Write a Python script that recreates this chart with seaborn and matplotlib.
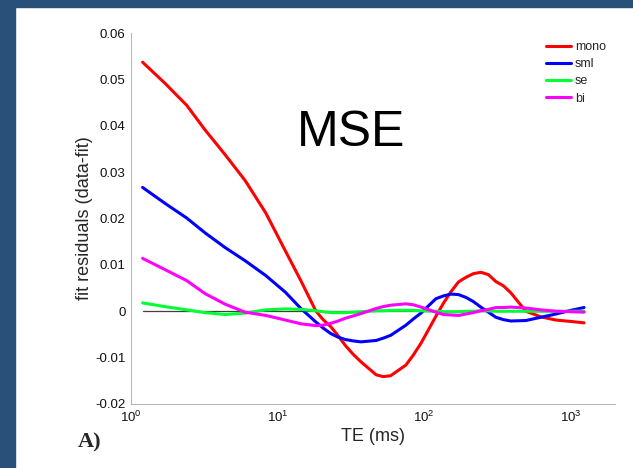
import numpy as np
import pandas as pd
import matplotlib
matplotlib.use("Agg")
import matplotlib.pyplot as plt
import seaborn as sns
from matplotlib.patches import Rectangle
from matplotlib.ticker import LogLocator, NullFormatter

# ---- data ----
te_ms = [1.2, 1.7, 2.4, 3.2, 4.4, 6.0, 8.3, 11.3, 14.4, 18.2,
         20.4, 23, 25.9, 29, 32.8, 37, 47, 52.5, 59, 75,
         84, 95, 120, 135, 152, 171, 192, 216, 243, 274,
         308, 346, 389, 493, 624, 790, 1000, 1230]
mono = [0.0537, 0.0492, 0.0444, 0.0391, 0.0337, 0.0282, 0.0212, 0.0130, 0.0066, 0.0001,
        -0.0018, -0.0033, -0.0053, -0.0074, -0.0093, -0.0109, -0.0137, -0.0141, -0.0139, -0.0116,
        -0.0095, -0.0069, -0.0011, 0.0017, 0.0042, 0.0063, 0.0073, 0.0081, 0.0084, 0.0079,
        0.0064, 0.0055, 0.0040, 0.0000, -0.0012, -0.0019, -0.0022, -0.0025]
sml = [0.0267, 0.0233, 0.0201, 0.0169, 0.0137, 0.0109, 0.0077, 0.0041, 0.0006, -0.0023,
       -0.0036, -0.0048, -0.0056, -0.0061, -0.0064, -0.0066, -0.0063, -0.0058, -0.0052, -0.0030,
       -0.0017, -0.0004, 0.0027, 0.0033, 0.0037, 0.0036, 0.0030, 0.0021, 0.0009, -0.0002,
       -0.0013, -0.0018, -0.0021, -0.0020, -0.0013, -0.0006, 0.0002, 0.0008]
se = [0.0018, 0.0010, 0.0003, -0.0003, -0.0007, -0.0004, 0.0003, 0.0005, 0.0004, 0.0001,
      -0.0001, -0.0003, -0.0003, -0.0003, -0.0002, -0.0001, 0.0001, 0.0001, 0.0002, 0.0002,
      0.0002, 0.0001, 0.0000, -0.0001, -0.0001, -0.0001, 0.0000, 0.0000, 0.0001, 0.0001,
      0.0000, 0.0000, 0.0000, 0.0000, 0.0000, 0.0000, 0.0000, 0.0000]
bi = [0.0114, 0.0090, 0.0066, 0.0038, 0.0015, -0.0002, -0.0009, -0.0019, -0.0027, -0.0031,
      -0.0030, -0.0026, -0.0021, -0.0015, -0.0010, -0.0005, 0.0006, 0.0010, 0.0013, 0.0016,
      0.0014, 0.0009, -0.0002, -0.0007, -0.0008, -0.0009, -0.0006, -0.0003, 0.0001, 0.0004,
      0.0008, 0.0008, 0.0009, 0.0007, 0.0003, 0.0000, -0.0001, -0.0002]
series_names = ["mono", "sml", "se", "bi"]
series_colors = ["#ff0000", "#0000ff", "#00ff33", "#ff00ff"]
y_ticks = [-0.02, -0.01, 0, 0.01, 0.02, 0.03, 0.04, 0.05, 0.06]
y_tick_labels = ["-0.02", "-0.01", "0", "0.01", "0.02", "0.03", "0.04", "0.05", "0.06"]

df = pd.DataFrame({
    "TE": te_ms * 4,
    "resid": mono + sml + se + bi,
    "model": sum([[n] * len(te_ms) for n in series_names], []),
})
zero_df = pd.DataFrame({"TE": [te_ms[0], te_ms[-1]], "resid": [0.0, 0.0]})

sns.set_style("white")
plt.rcParams["font.family"] = ["Liberation Sans", "DejaVu Sans"]
plt.rcParams["mathtext.fontset"] = "custom"
plt.rcParams["mathtext.rm"] = "Liberation Sans"
plt.rcParams["mathtext.default"] = "regular"

fig = plt.figure(figsize=(6.33, 4.68), dpi=100, facecolor="white")
# dark blue frame bands
fig.patches.append(Rectangle((0, 1 - 7 / 468), 1, 7 / 468, transform=fig.transFigure,
                             color="#285078", zorder=0))
fig.patches.append(Rectangle((0, 0), 15 / 633, 1, transform=fig.transFigure,
                             color="#285078", zorder=0))

ax = fig.add_axes([131 / 633, 1 - 404 / 468, (615 - 131) / 633, (404 - 33) / 468])
ax.set_facecolor("none")

sns.lineplot(data=df, x="TE", y="resid", hue="model", hue_order=series_names,
             palette=dict(zip(series_names, series_colors)), estimator=None,
             sort=False, linewidth=2.2, ax=ax, zorder=3)
for ln in ax.get_lines():
    ln.set_solid_joinstyle("round")
sns.lineplot(data=zero_df, x="TE", y="resid", color="#404040", linewidth=0.9,
             ax=ax, zorder=2.5, legend=False)

ax.set_xscale("log")
ax.set_xlim(1, 2000)
ax.set_ylim(-0.02, 0.06)
ax.set_yticks(y_ticks, labels=y_tick_labels)
ax.xaxis.set_major_locator(LogLocator(base=10, numticks=10))
ax.xaxis.set_minor_locator(LogLocator(base=10, subs=np.arange(2, 10), numticks=20))
ax.xaxis.set_minor_formatter(NullFormatter())

for s in ["top", "right"]:
    ax.spines[s].set_visible(False)
for s in ["left", "bottom"]:
    ax.spines[s].set_color("#b8b8b8")
    ax.spines[s].set_linewidth(0.8)
ax.tick_params(axis="both", which="major", direction="in", length=4, width=0.7,
               color="#b8b8b8", labelsize=9.5, labelcolor="#111111", pad=4)
ax.tick_params(axis="x", which="minor", direction="in", length=2.5, width=0.6,
               color="#b8b8b8")
ax.tick_params(axis="y", which="minor", left=False)
ax.grid(False)

ax.set_xlabel("TE (ms)", fontsize=13, labelpad=2)
ax.set_ylabel("fit residuals (data-fit)", fontsize=13, labelpad=1.5)

leg = ax.legend(loc="upper right", bbox_to_anchor=(611 / 633, 1 - 36 / 468),
                bbox_transform=fig.transFigure, frameon=False, fontsize=9,
                handlelength=2.0, handletextpad=0.35, labelspacing=0.42,
                borderaxespad=0)
for line in leg.get_lines():
    line.set_linewidth(2.2)

fig.text(351 / 633, 1 - 133 / 468, "MSE", fontsize=36, ha="center", va="center",
         color="black")
fig.text(90 / 633, 1 - 442 / 468, "A)", fontsize=16, fontweight="bold",
         family=["Liberation Serif", "DejaVu Serif"], ha="center", va="center")

fig.savefig("out.png", dpi=100, facecolor="white")
